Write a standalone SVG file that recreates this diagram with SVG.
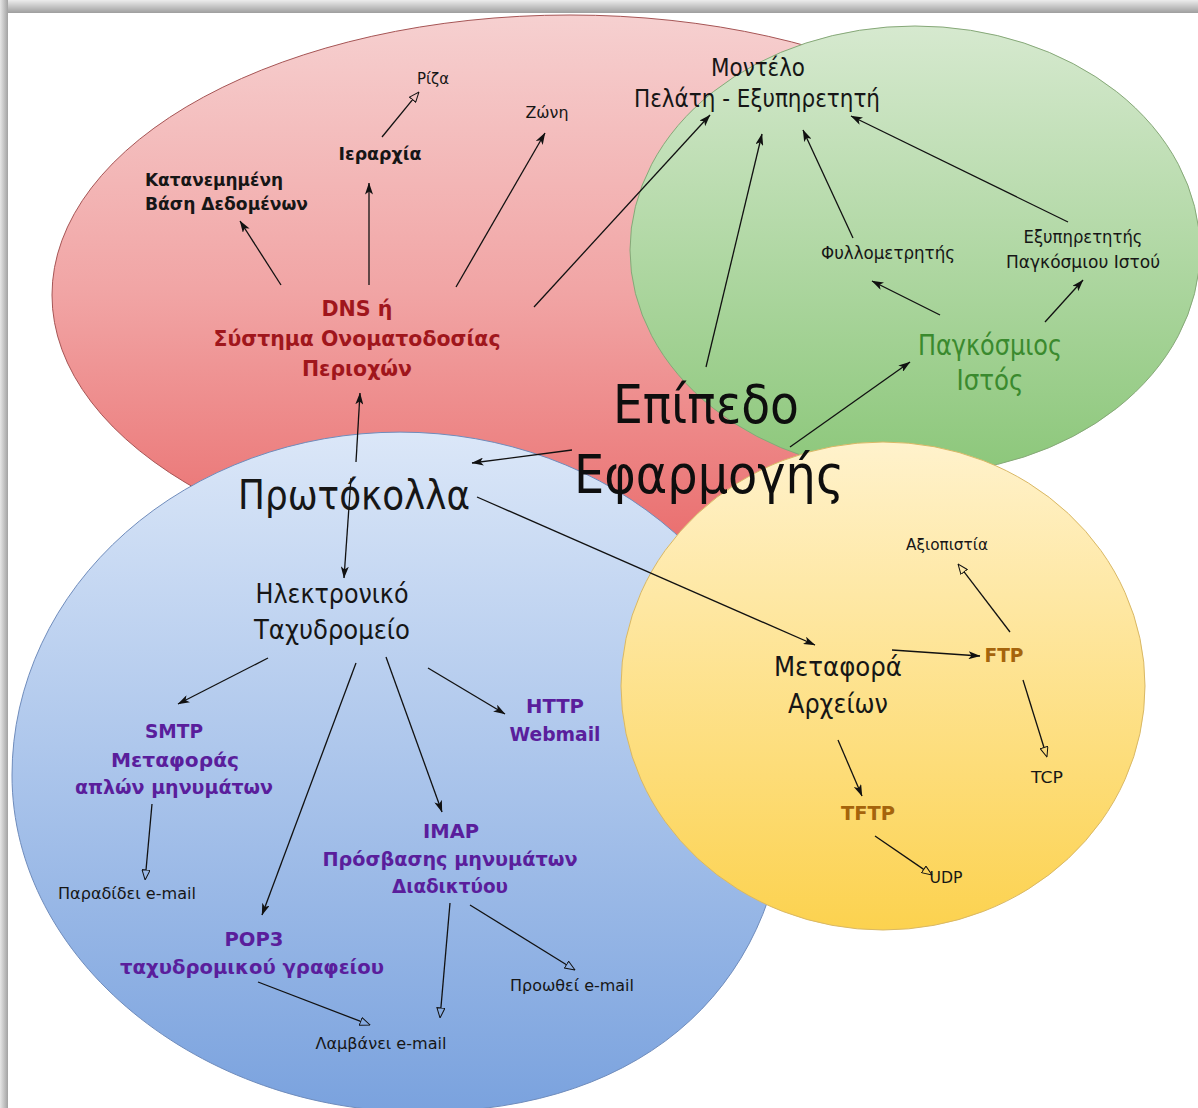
<svg xmlns="http://www.w3.org/2000/svg" width="1198" height="1108" viewBox="0 0 1198 1108">
<defs>
  <linearGradient id="gTop" x1="0" y1="0" x2="0" y2="1">
    <stop offset="0" stop-color="#ececec"/><stop offset="1" stop-color="#9e9e9e"/>
  </linearGradient>
  <linearGradient id="gLeft" x1="0" y1="0" x2="1" y2="0">
    <stop offset="0" stop-color="#e6e6e6"/><stop offset="1" stop-color="#a2a2a2"/>
  </linearGradient>
  <linearGradient id="gRed" x1="0" y1="0" x2="0" y2="1">
    <stop offset="0" stop-color="#f6d0d0"/><stop offset="0.5" stop-color="#f1a4a4"/><stop offset="1" stop-color="#e96868"/>
  </linearGradient>
  <linearGradient id="gGreen" x1="0" y1="0" x2="0" y2="1">
    <stop offset="0" stop-color="#d6e9cf"/><stop offset="1" stop-color="#8cc77a"/>
  </linearGradient>
  <linearGradient id="gBlue" x1="0" y1="0" x2="0" y2="1">
    <stop offset="0" stop-color="#dbe7f8"/><stop offset="1" stop-color="#7aa2de"/>
  </linearGradient>
  <linearGradient id="gYellow" x1="0" y1="0" x2="0" y2="1">
    <stop offset="0" stop-color="#fff2cc"/><stop offset="1" stop-color="#fcd24f"/>
  </linearGradient>
  <marker id="af" markerUnits="userSpaceOnUse" viewBox="0 0 12 8" markerWidth="12" markerHeight="8" refX="11.5" refY="4" orient="auto">
    <path d="M0,0 L12,4 L0,8 L3,4 z" fill="#111"/>
  </marker>
  <marker id="ao" markerUnits="userSpaceOnUse" viewBox="0 0 11 9" markerWidth="11" markerHeight="9" refX="0.5" refY="4.5" orient="auto">
    <path d="M0.5,0.5 L10.5,4.5 L0.5,8.5 z" fill="none" stroke="#111" stroke-width="1"/>
  </marker>
</defs>
<style>
  text { font-family: "DejaVu Sans", "Liberation Sans", sans-serif; fill: #161616; text-anchor: middle; }
  .l { text-anchor: start; }
  .sm { font-size: 16px; }
  .s17 { font-size: 17px; }
  .bk { font-size: 18px; font-weight: bold; }
  .dns { font-size: 22px; font-weight: bold; fill: #a0161c; }
  .pur { font-size: 20px; font-weight: bold; fill: #5a1e9c; }
  .org { font-size: 20px; font-weight: bold; fill: #a5640c; }
  .grn { font-size: 29px; fill: #3a8a2e; }
  .med { font-size: 24px; }
  .lg { font-size: 27px; }
  .xl { font-size: 40px; }
  .xxl { font-size: 54px; fill: #0e0e0e; }
  #connectors line { stroke: #111; stroke-width: 1.3; fill: none; }
  #connectors .f { marker-end: url(#af); }
  #connectors .o { marker-end: url(#ao); }
</style>

<rect x="0" y="0" width="1198" height="1108" fill="#ffffff"/>
<rect x="0" y="0" width="1198" height="13" fill="url(#gTop)"/>
<rect x="0" y="0" width="8" height="1108" fill="url(#gLeft)"/>

<g id="region-dns">
  <ellipse cx="570" cy="295" rx="518" ry="280" fill="url(#gRed)" stroke="#a65555" stroke-width="1"/>
</g>
<g id="region-web">
  <ellipse cx="915" cy="250" rx="285" ry="224" fill="url(#gGreen)" stroke="#86a878" stroke-width="1"/>
</g>
<g id="region-protocols">
  <path d="M12,775 A388,343 0 0 1 788,775 C788,980 650,1112 420,1112 C200,1112 12,960 12,775 Z" fill="url(#gBlue)" stroke="#6f8cbc" stroke-width="1"/>
</g>
<g id="region-ftp">
  <ellipse cx="883" cy="686" rx="262" ry="244" fill="url(#gYellow)" stroke="#d9b865" stroke-width="1"/>
</g>

<g id="connectors">
  <line class="f" x1="281" y1="285" x2="240" y2="221"/>
  <line class="f" x1="369" y1="285" x2="369" y2="183"/>
  <line class="o" x1="382" y1="137" x2="412.6" y2="99.7"/>
  <line class="f" x1="456" y1="287" x2="545" y2="133"/>
  <line class="f" x1="534" y1="307" x2="710" y2="115"/>
  <line class="f" x1="706" y1="367" x2="762" y2="134"/>
  <line class="f" x1="853" y1="238" x2="803" y2="130"/>
  <line class="f" x1="1068" y1="222" x2="851" y2="116"/>
  <line class="f" x1="940" y1="315" x2="872" y2="281"/>
  <line class="f" x1="1045" y1="322" x2="1083" y2="280"/>
  <line class="f" x1="790" y1="447" x2="910" y2="362"/>
  <line class="f" x1="572" y1="450" x2="472" y2="463"/>
  <line class="f" x1="356" y1="462" x2="360" y2="393"/>
  <line class="f" x1="351" y1="478" x2="344" y2="578"/>
  <line class="f" x1="477" y1="497" x2="815" y2="645"/>
  <line class="f" x1="268" y1="658" x2="178" y2="704"/>
  <line class="f" x1="356" y1="663" x2="262" y2="915"/>
  <line class="f" x1="386" y1="657" x2="442" y2="812"/>
  <line class="f" x1="428" y1="668" x2="505" y2="714"/>
  <line class="o" x1="152" y1="804" x2="146" y2="870"/>
  <line class="o" x1="470" y1="905" x2="566.5" y2="964.7"/>
  <line class="o" x1="450" y1="903" x2="440.9" y2="1008"/>
  <line class="o" x1="258" y1="982" x2="360.7" y2="1021.4"/>
  <line class="f" x1="892" y1="650" x2="980" y2="656"/>
  <line class="o" x1="1010" y1="632" x2="964.1" y2="571.9"/>
  <line class="o" x1="1023" y1="680" x2="1044" y2="747.5"/>
  <line class="f" x1="838" y1="740" x2="862" y2="796"/>
  <line class="o" x1="875" y1="836" x2="923.7" y2="869.4"/>
</g>

<g id="n-riza"><text class="sm" x="433" y="84" textLength="32" lengthAdjust="spacingAndGlyphs">Ρίζα</text></g>
<g id="n-zoni"><text class="sm" x="547" y="118" textLength="43" lengthAdjust="spacingAndGlyphs">Ζώνη</text></g>
<g id="n-ierarxia"><text class="bk" x="380" y="160" textLength="83" lengthAdjust="spacingAndGlyphs">Ιεραρχία</text></g>
<g id="n-katanemimeni">
  <text class="bk l" x="145" y="186" textLength="138" lengthAdjust="spacingAndGlyphs">Κατανεμημένη</text>
  <text class="bk l" x="145" y="210" textLength="163" lengthAdjust="spacingAndGlyphs">Βάση Δεδομένων</text>
</g>
<g id="n-dns">
  <text class="dns" x="357" y="316" textLength="71" lengthAdjust="spacingAndGlyphs">DNS ή</text>
  <text class="dns" x="357" y="346" textLength="287" lengthAdjust="spacingAndGlyphs">Σύστημα Ονοματοδοσίας</text>
  <text class="dns" x="357" y="376" textLength="110" lengthAdjust="spacingAndGlyphs">Περιοχών</text>
</g>

<g id="n-montelo">
  <text class="med" x="758" y="76" textLength="94" lengthAdjust="spacingAndGlyphs">Μοντέλο</text>
  <text class="med" x="757" y="107" textLength="246" lengthAdjust="spacingAndGlyphs">Πελάτη - Εξυπηρετητή</text>
</g>
<g id="n-fyllometritis"><text class="s17" x="888" y="259" textLength="134" lengthAdjust="spacingAndGlyphs">Φυλλομετρητής</text></g>
<g id="n-exypiretitis">
  <text class="s17" x="1083" y="243" textLength="119" lengthAdjust="spacingAndGlyphs">Εξυπηρετητής</text>
  <text class="s17" x="1083" y="268" textLength="154" lengthAdjust="spacingAndGlyphs">Παγκόσμιου Ιστού</text>
</g>
<g id="n-pagkosmios">
  <text class="grn" x="990" y="355" textLength="144" lengthAdjust="spacingAndGlyphs">Παγκόσμιος</text>
  <text class="grn" x="990" y="390" textLength="67" lengthAdjust="spacingAndGlyphs">Ιστός</text>
</g>

<g id="n-protokolla"><text class="xl" x="354" y="509" textLength="232" lengthAdjust="spacingAndGlyphs">Πρωτόκολλα</text></g>
<g id="n-email">
  <text class="lg" x="332" y="603" font-size="26" textLength="153" lengthAdjust="spacingAndGlyphs">Ηλεκτρονικό</text>
  <text class="lg" x="332" y="639" textLength="156" lengthAdjust="spacingAndGlyphs">Ταχυδρομείο</text>
</g>
<g id="n-smtp">
  <text class="pur" x="174" y="738" textLength="58" lengthAdjust="spacingAndGlyphs">SMTP</text>
  <text class="pur" x="175" y="767" textLength="128" lengthAdjust="spacingAndGlyphs">Μεταφοράς</text>
  <text class="pur" x="174" y="794" textLength="198" lengthAdjust="spacingAndGlyphs">απλών μηνυμάτων</text>
</g>
<g id="n-http">
  <text class="pur" x="555" y="713" textLength="58" lengthAdjust="spacingAndGlyphs">HTTP</text>
  <text class="pur" x="555" y="741" textLength="91" lengthAdjust="spacingAndGlyphs">Webmail</text>
</g>
<g id="n-imap">
  <text class="pur" x="451" y="838" textLength="56" lengthAdjust="spacingAndGlyphs">IMAP</text>
  <text class="pur" x="450" y="866" textLength="255" lengthAdjust="spacingAndGlyphs">Πρόσβασης μηνυμάτων</text>
  <text class="pur" x="450" y="893" textLength="116" lengthAdjust="spacingAndGlyphs">Διαδικτύου</text>
</g>
<g id="n-pop3">
  <text class="pur" x="254" y="946" textLength="59" lengthAdjust="spacingAndGlyphs">POP3</text>
  <text class="pur" x="252" y="974" textLength="264" lengthAdjust="spacingAndGlyphs">ταχυδρομικού γραφείου</text>
</g>
<g id="n-paradidei"><text class="sm" x="127" y="899" textLength="138" lengthAdjust="spacingAndGlyphs">Παραδίδει e-mail</text></g>
<g id="n-lamvanei"><text class="sm" x="381" y="1049" textLength="131" lengthAdjust="spacingAndGlyphs">Λαμβάνει e-mail</text></g>
<g id="n-proothei"><text class="sm" x="572" y="991" textLength="124" lengthAdjust="spacingAndGlyphs">Προωθεί e-mail</text></g>

<g id="n-axiopistia"><text class="sm" x="947" y="550" textLength="82" lengthAdjust="spacingAndGlyphs">Αξιοπιστία</text></g>
<g id="n-ftp"><text class="org" x="1004" y="662" textLength="39" lengthAdjust="spacingAndGlyphs">FTP</text></g>
<g id="n-tcp"><text class="sm" x="1047" y="783" textLength="32" lengthAdjust="spacingAndGlyphs">TCP</text></g>
<g id="n-metafora">
  <text class="lg" x="838" y="676" textLength="128" lengthAdjust="spacingAndGlyphs">Μεταφορά</text>
  <text class="lg" x="838" y="713" textLength="100" lengthAdjust="spacingAndGlyphs">Αρχείων</text>
</g>
<g id="n-tftp"><text class="org" x="868" y="820" textLength="54" lengthAdjust="spacingAndGlyphs">TFTP</text></g>
<g id="n-udp"><text class="sm" x="946" y="883" textLength="33" lengthAdjust="spacingAndGlyphs">UDP</text></g>

<g id="n-epipedo">
  <text class="xxl" x="706" y="423" textLength="186" lengthAdjust="spacingAndGlyphs">Επίπεδο</text>
  <text class="xxl" x="709" y="493" textLength="270" lengthAdjust="spacingAndGlyphs">Εφαρμογής</text>
</g>
</svg>
